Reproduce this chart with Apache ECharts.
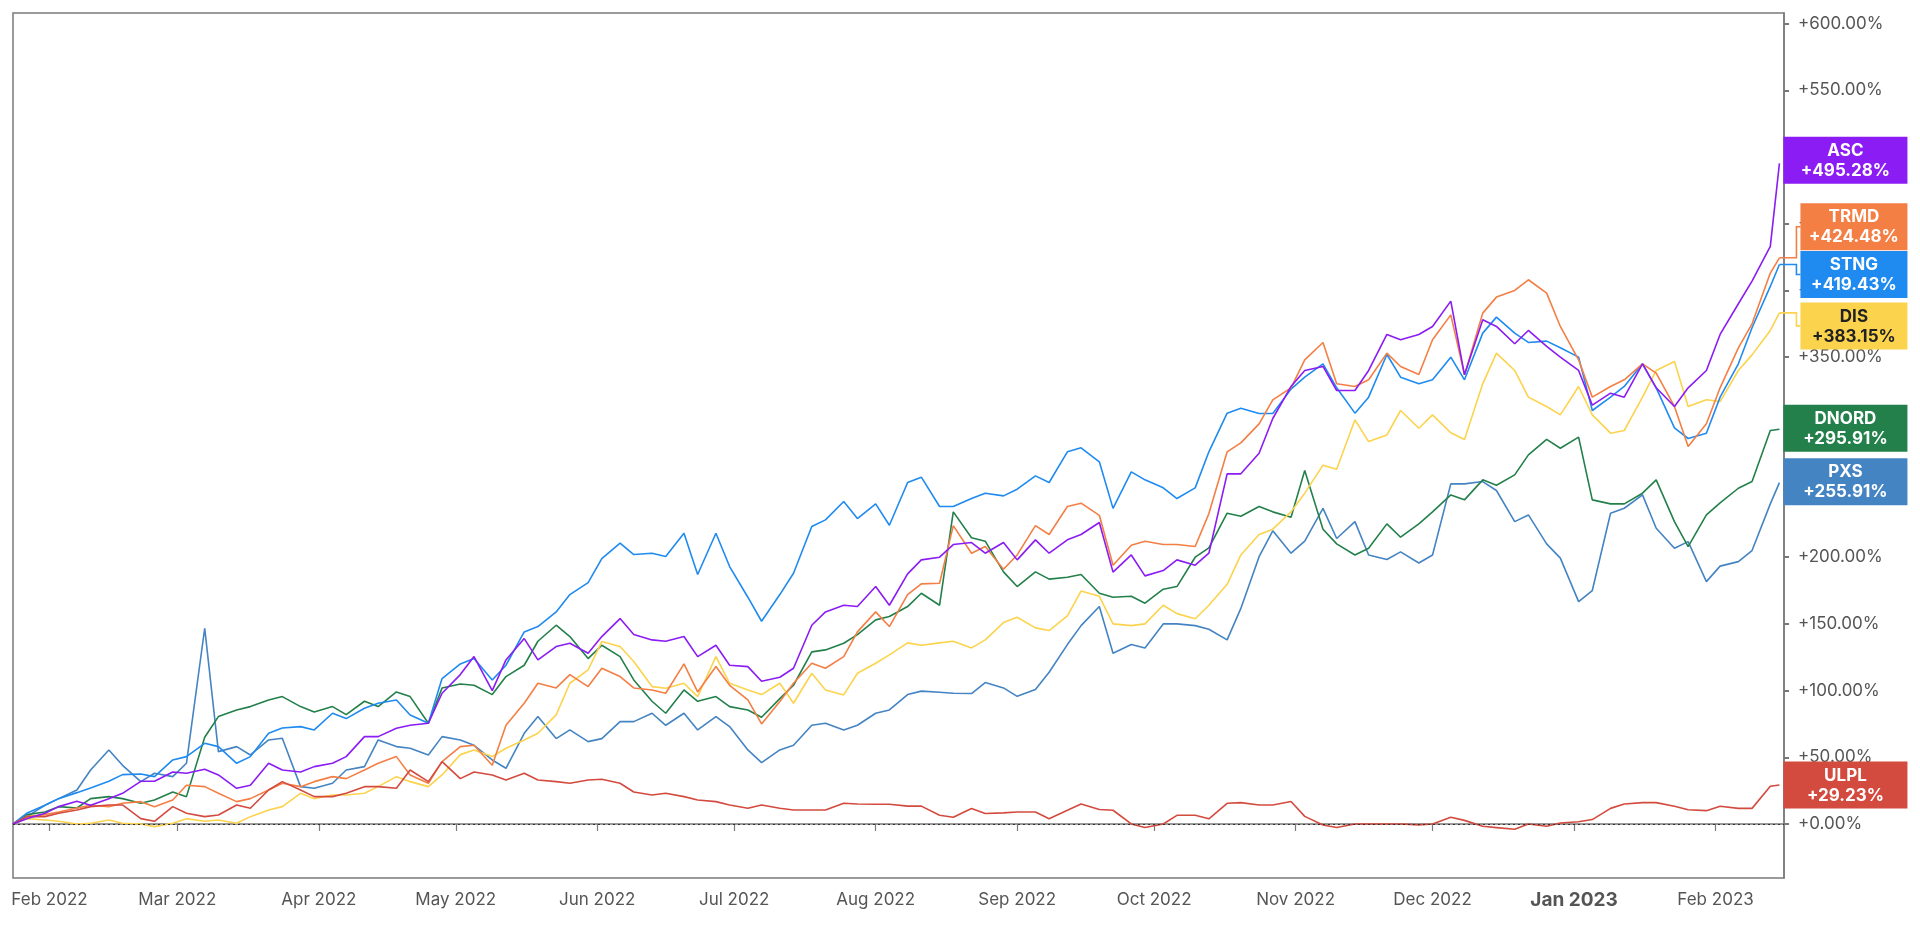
<!DOCTYPE html>
<html lang="en">
<head>
<meta charset="UTF-8">
<title>Total return comparison</title>
<script src="https://cdn.jsdelivr.net/npm/echarts@6.0.0/dist/echarts.min.js"></script>
<style>
  html, body { margin: 0; padding: 0; background: #fff; }
  #main { width: 1920px; height: 938px; }
</style>
</head>
<body>
<div id="main"></div>
<script>
// sample dates, two per week
var dates = [
  '2022-01-24','2022-01-27','2022-01-31','2022-02-03','2022-02-07','2022-02-10','2022-02-14','2022-02-17',
  '2022-02-21','2022-02-24','2022-02-28','2022-03-03','2022-03-07','2022-03-10','2022-03-14','2022-03-17',
  '2022-03-21','2022-03-24','2022-03-28','2022-03-31','2022-04-04','2022-04-07','2022-04-11','2022-04-14',
  '2022-04-18','2022-04-21','2022-04-25','2022-04-28','2022-05-02','2022-05-05','2022-05-09','2022-05-12',
  '2022-05-16','2022-05-19','2022-05-23','2022-05-26','2022-05-30','2022-06-02','2022-06-06','2022-06-09',
  '2022-06-13','2022-06-16','2022-06-20','2022-06-23','2022-06-27','2022-06-30','2022-07-04','2022-07-07',
  '2022-07-11','2022-07-14','2022-07-18','2022-07-21','2022-07-25','2022-07-28','2022-08-01','2022-08-04',
  '2022-08-08','2022-08-11','2022-08-15','2022-08-18','2022-08-22','2022-08-25','2022-08-29','2022-09-01',
  '2022-09-05','2022-09-08','2022-09-12','2022-09-15','2022-09-19','2022-09-22','2022-09-26','2022-09-29',
  '2022-10-03','2022-10-06','2022-10-10','2022-10-13','2022-10-17','2022-10-20','2022-10-24','2022-10-27',
  '2022-10-31','2022-11-03','2022-11-07','2022-11-10','2022-11-14','2022-11-17','2022-11-21','2022-11-24',
  '2022-11-28','2022-12-01','2022-12-05','2022-12-08','2022-12-12','2022-12-15','2022-12-19','2022-12-22',
  '2022-12-26','2022-12-29','2023-01-02','2023-01-05','2023-01-09','2023-01-12','2023-01-16','2023-01-19',
  '2023-01-23','2023-01-26','2023-01-30','2023-02-02','2023-02-06','2023-02-09','2023-02-13','2023-02-15'
];

// total return, %
var asc = [
  0, 4, 8, 13, 17, 14, 19, 23, 32, 32, 39, 38, 41, 36.75, 26.75, 29, 45.5, 40.5, 39, 43, 45.5, 50.5, 65.5, 65.5, 71.75, 74, 75.5, 98,
  112,
  125.5, 100, 123, 139, 123, 133, 135.5, 128, 140.5, 154, 142, 138, 137, 140.5, 125.5, 134, 119, 118, 107, 110, 116.75, 149, 159, 164, 163, 178, 164,
  187.5, 198, 200, 209.5, 211, 203, 211, 198, 213, 203, 213, 217, 226, 188.8, 201.7, 186, 190, 198, 194, 203, 262.5, 262.5, 278, 304, 328, 340, 343, 325,
  325, 340, 367, 363, 367, 373, 392, 336.7, 378, 373, 360, 370, 358, 350, 340, 314, 323, 320, 345, 327, 313, 327, 340, 367, 390, 407, 433, 495.28
];
var trmd = [
  0, 5.5, 7, 9, 12, 14, 13, 15.5, 16.75, 13, 18, 29, 28, 23, 16.75, 19, 25.5, 30.5, 28, 31.75, 35.5, 34, 40.5, 45.5, 50.5, 36.75, 30.5, 46.75,
  58,
  59, 44, 74, 90.5, 105.5, 102, 112, 103, 116.75, 110.5, 102, 100.5, 98, 120, 99, 118, 104, 93, 75, 91.75, 105.5, 120.5, 116.75, 125.5, 144, 159, 148,
  172, 180, 180.5, 223.7, 203, 208, 191, 201.7, 223.7, 217, 238, 240.5, 231.4, 194, 209, 212, 209.5, 209.5, 208, 232.7, 279, 285.7, 300, 318, 327, 348, 361, 330,
  328, 333, 353, 343, 337, 363, 381.7, 336.7, 383, 395, 400, 408, 398, 373, 348, 320, 328, 333, 345, 338, 313, 283, 300, 327, 357, 375, 413, 424.48
];
var stng = [
  0, 8, 14, 19, 23.5, 27, 32, 37, 37.5, 35.5, 48, 50.5, 60.5, 58, 45.5, 50.5, 68, 72, 73, 70.5, 83, 79, 86.75, 90.5, 93, 81.75, 75.5, 109,
  120,
  124, 108, 119, 144, 148, 159, 172, 181, 199, 210.5, 202, 203, 200.5, 218, 187, 218, 193, 170, 152, 172, 188, 223, 228, 241.75, 229, 240, 224,
  256, 260, 238, 238, 244, 248, 246, 251, 261, 256, 279, 282, 271.5, 236.6, 264, 258, 252, 244, 252, 279, 308, 311.6, 307.7, 307.7, 326, 335, 345, 327,
  308, 320, 352, 335, 330, 333, 350, 333, 368, 380, 368, 361, 362, 357, 350, 310, 320, 328, 345, 327, 297, 289, 293, 320, 345, 372, 403, 419.43
];
var dis = [
  0, 4, 3, 2, 0, 0.5, 3, 0.5, 0, -2, 0.5, 4, 2, 3, 0.5, 5.5, 10.5, 13, 23, 19, 21.75, 21.75, 23, 28, 35.5, 31.75, 28, 36.75,
  52,
  55.5, 50.5, 56.75, 63, 68, 81.75, 105.5, 115.5, 136.75, 133, 121.75, 103, 101.75, 105.5, 95.5, 125.5, 105.5, 100.5, 97, 105.5, 90.5, 113, 100.5, 96.75, 113, 120.5, 126.75,
  135.8, 134, 135.8, 137, 132, 138, 151, 155, 147, 145, 156, 174.6, 170.7, 150, 148.7, 150, 164, 157.7, 153.9, 164, 179.7, 201.7, 217, 221, 234, 248, 269, 266,
  303, 286.7, 291.7, 310, 296.7, 306.7, 293.3, 288.3, 330, 353, 340, 320, 313, 306.7, 328, 306.7, 293, 295, 320, 340, 346.7, 313, 318, 316.7, 340, 351.7, 370, 383.15
];
var dnord = [
  0, 7, 9, 13, 12, 19, 20.5, 19, 15.5, 18, 24, 20.5, 65, 80.5, 85.5, 88, 93, 95.5, 88, 84, 88, 82, 92, 88, 99, 95.5, 75.5, 102,
  105,
  104, 97, 110.5, 119, 137, 149, 140.5, 124, 134, 125.5, 108, 92, 83, 100.5, 92, 95.5, 88, 85.5, 80, 94, 104, 129, 130.5, 135.5, 142, 153, 155.5,
  163, 173, 164, 234, 214.6, 212, 189, 178, 189, 183.6, 185, 187, 173, 170, 170.7, 165.5, 176, 178, 200, 207, 233, 230.7, 238, 234, 230, 265, 221, 210,
  201.7, 206.7, 225, 215, 225, 234, 246.7, 243, 258, 254, 261.7, 276.7, 288.3, 281.7, 290, 243, 240, 240, 248, 258, 226.7, 208, 231.7, 240.7, 251.7, 256.7, 295, 295.91
];
var pxs = [
  0, 5.5, 14, 19, 25.5, 40.5, 55.5, 44, 31.75, 38, 35.5, 45.5, 146.75, 54.25, 58, 51.75, 63, 64.25, 28, 26.75, 30.5, 40.5, 43, 63, 58, 56.75, 51.75, 65.5,
  63,
  59, 48, 41.75, 68, 80.5, 64, 70.5, 61.75, 64, 76.75, 76.75, 83, 74, 83, 70.5, 80.5, 73, 55.5, 46, 55.5, 59, 74, 75.5, 70.5, 74, 83, 85.5,
  97, 99.6, 98.8, 98, 97.8, 106, 102, 95.7, 100.8, 113.8, 134.5, 148.7, 163, 128, 134.5, 131.9, 150, 150, 148.7, 146, 138, 161.6, 200.4, 219.8, 203, 212, 236.6, 214,
  226.7, 201.7, 198.3, 204, 195.7, 201.7, 255, 255, 256.7, 250, 226.7, 231.7, 210, 199.3, 166.7, 175, 233, 236.7, 246.7, 221.7, 206.7, 211.7, 181.7, 193.3, 196.7, 205, 240, 255.91
];
var ulpl = [
  0, 5.5, 5.5, 8, 10.5, 13, 14.25, 14.25, 4, 2, 13, 8, 5.5, 6.75, 14.25, 11.75, 25.5, 31.75, 25.5, 20.5, 20.5, 23, 28, 28, 26.75, 40.5, 31.75, 46.75,
  34,
  39, 36.75, 33, 38, 33, 31.75, 30.5, 33, 33.5, 30.5, 24, 21.75, 23, 20.5, 18, 16.75, 14.25, 11.75, 14.25, 11.75, 10.5, 10.5, 10.5, 15.5, 15, 14.75, 14.75,
  13.4, 13.4, 6.5, 5, 11.6, 7.8, 8.3, 9, 9, 3.9, 10.3, 15, 10.9, 10.3, 0, -2.6, 0, 6.5, 6.5, 3.9, 15.5, 16, 14.2, 14.2, 16.8, 5.7, -0.8, -2.6,
  0, 0, 0, 0, -0.7, 0, 5, 2.7, -1.7, -2.7, -4, 0, -1.7, 0.7, 1.7, 3.3, 11.7, 15, 16, 16, 13.3, 10.7, 10, 13.3, 11.7, 11.7, 28.3, 29.23
];

var yTicks = [0, 50, 100, 150, 200, 250, 300, 350, 400, 450, 500, 550, 600];
var monthNames = ['Jan','Feb','Mar','Apr','May','Jun','Jul','Aug','Sep','Oct','Nov','Dec'];

// drawing order and looks of each ticker
var tickers = [
  { name: 'PXS',   data: pxs,   color: '#4584c2', text: '#fff', dx: 0,  dy: -1,  w: 108 },
  { name: 'DNORD', data: dnord, color: '#23804a', text: '#fff', dx: 0,  dy: -1,  w: 108 },
  { name: 'DIS',   data: dis,   color: '#fcd34d', text: '#222', dx: 17, dy: 13,  w: 91 },
  { name: 'STNG',  data: stng,  color: '#1f8bf0', text: '#fff', dx: 17, dy: 10,  w: 91 },
  { name: 'TRMD',  data: trmd,  color: '#f47f45', text: '#fff', dx: 17, dy: -31, w: 91 },
  { name: 'ULPL',  data: ulpl,  color: '#d34b3f', text: '#fff', dx: 0,  dy: 0,   w: 108 },
  { name: 'ASC',   data: asc,   color: '#8b1cf3', text: '#fff', dx: 0,  dy: -3,  w: 108 }
];

var font = 'Inter, Roboto, sans-serif';
var chart = echarts.init(document.getElementById('main'));

var series = tickers.map(function (t) {
  var s = {
    name: t.name,
    type: 'line',
    data: dates.map(function (d, i) { return [d, t.data[i]]; }),
    showSymbol: false,
    symbol: 'none',
    lineStyle: { color: t.color, width: 1.6 },
    itemStyle: { color: t.color },
    emphasis: { disabled: true },
    endLabel: {
      show: true,
      distance: 4,
      offset: [t.dx, t.dy],
      backgroundColor: t.color,
      padding: [4, 8, 3, 8],
      formatter: function (p) {
        return '{t|' + p.seriesName + '}\n{t|+' + p.value[1].toFixed(2) + '%}';
      },
      rich: {
        t: {
          width: t.w, align: 'center', color: t.text, fontSize: 17,
          fontWeight: 'bold', fontFamily: font, lineHeight: 20
        }
      }
    }
  };
  if (t.name === 'ULPL') {
    s.markLine = {
      silent: true,
      symbol: ['none', 'none'],
      label: { show: false },
      lineStyle: { color: '#333', type: [2, 3], width: 1.2 },
      data: [{ yAxis: 0 }]
    };
  }
  return s;
});

chart.setOption({
  animation: false,
  backgroundColor: '#fff',
  grid: {
    left: 13, right: 136, top: 13, bottom: 60,
    show: true, borderColor: '#7a7a7a', borderWidth: 1.5
  },
  xAxis: {
    type: 'time',
    min: '2022-01-24',
    max: '2023-02-16',
    splitNumber: 13,
    minInterval: 28 * 86400000,
    maxInterval: 31 * 86400000,
    axisLine: { show: true, lineStyle: { color: '#7a7a7a', width: 1.5 } },
    axisTick: { show: true, length: 7, lineStyle: { color: '#7a7a7a', width: 1.2 } },
    splitLine: { show: false },
    axisLabel: {
      color: '#555', fontSize: 17, fontFamily: font, margin: 13,
      showMinLabel: false, showMaxLabel: false,
      formatter: function (v) {
        var d = new Date(v);
        var s = monthNames[d.getMonth()] + ' ' + d.getFullYear();
        return d.getMonth() === 0 ? '{b|' + s + '}' : s;
      },
      rich: { b: { fontWeight: 'bold', fontSize: 19, color: '#555', fontFamily: font } }
    }
  },
  yAxis: {
    type: 'value',
    position: 'right',
    min: -40.5,
    max: 608,
    axisLine: { show: true, lineStyle: { color: '#7a7a7a', width: 1.5 } },
    axisTick: { show: true, length: 5, customValues: yTicks, lineStyle: { color: '#777', width: 2 } },
    splitLine: { show: false },
    axisLabel: {
      customValues: yTicks,
      color: '#555', fontSize: 17, fontFamily: font, margin: 14,
      formatter: function (v) { return '+' + v.toFixed(2) + '%'; }
    }
  },
  series: series
});

// elbow leaders for the labels that were nudged off their line end
var last = dates.length - 1;
var leaders = [];
tickers.forEach(function (t) {
  if (!t.dx) return;
  var p = chart.convertToPixel({ gridIndex: 0 }, [dates[last], t.data[last]]);
  var bx = p[0] + 4 + t.dx;
  leaders.push({
    type: 'polyline',
    z: 5,
    shape: { points: [[p[0], p[1]], [bx - 4, p[1]], [bx - 4, p[1] + t.dy], [bx, p[1] + t.dy]] },
    style: { stroke: t.color, lineWidth: 1.6, fill: null }
  });
});
chart.setOption({ graphic: leaders });
</script>
</body>
</html>
